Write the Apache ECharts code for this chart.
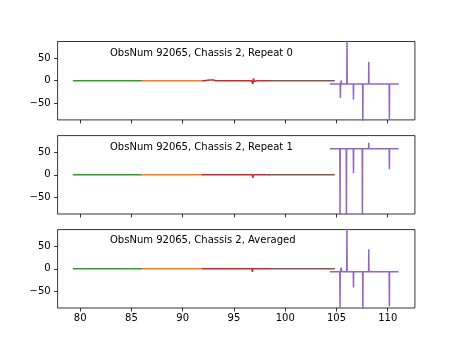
<!DOCTYPE html>
<html>
<head>
<meta charset="utf-8">
<script src="https://cdn.jsdelivr.net/npm/echarts@6/dist/echarts.min.js"></script>
<style>html,body{margin:0;padding:0;background:#fff}#c{width:461px;height:346px}</style>
</head>
<body>
<div id="c"></div>
<script>
// ---- data ----
const titles = ['ObsNum 92065, Chassis 2, Repeat 0', 'ObsNum 92065, Chassis 2, Repeat 1', 'ObsNum 92065, Chassis 2, Averaged'];
const xTicks = [80, 85, 90, 95, 100, 105, 110];
const yTicks = [-50, 0, 50];
const xRange = [77.8, 112.65];
const yRange = [-86, 86];

const green = [[79.29, 0], [86.07, 0]];
const orange = [[86.0, 0], [91.84, 0]];
const brown = [[98.4, 0], [104.84, 0]];

const red0 = [[91.84,0],[92.2,0],[92.3,-1.5],[92.4,1],[92.5,-1],[92.7,1.5],[92.85,-1],[93.0,1.5],[93.2,0],[96.7,0],[96.8,2],[96.85,-7],[96.9,5],[97.0,-2],[97.1,1],[97.2,0],[98.5,0]];
const red1 = [[91.84,0],[92.9,0],[93.0,2],[93.1,0],[96.8,0],[96.85,-7],[96.9,0],[98.5,0]];
const red2 = [[91.84,0],[92.9,0],[93.0,3],[93.1,0],[96.75,0],[96.8,-7],[96.85,0],[97.15,0],[97.2,3],[97.25,0],[98.5,0]];

const purple0 = [[104.35,-7],[105.36,-7],[105.38,-38],[105.41,-7],[105.44,-7],[105.46,1],[105.48,-7],[106.01,-7],[106.03,95],[106.05,-7],[106.64,-7],[106.66,-42],[106.68,-7],[107.55,-7],[107.57,-95],[107.59,-7],[108.13,-7],[108.15,41],[108.17,-7],[110.14,-7],[110.16,-86],[110.18,-7],[111.07,-7]];
const purple1 = [[104.35,57],[105.33,57],[105.35,-95],[105.37,57],[105.95,57],[105.97,-95],[105.99,57],[106.2,57],[106.22,59],[106.24,57],[106.64,57],[106.66,4],[106.68,57],[107.1,57],[107.12,59],[107.14,57],[107.51,57],[107.53,-95],[107.55,57],[108.13,57],[108.15,70],[108.17,57],[110.14,57],[110.16,12],[110.18,57],[111.07,57]];
const purple2 = [[104.35,-6.5],[105.33,-6.5],[105.35,-86],[105.37,-6.5],[105.46,-6.5],[105.48,3],[105.5,-6.5],[106.0,-6.5],[106.02,95],[106.04,-6.5],[106.64,-6.5],[106.66,-41],[106.68,-6.5],[107.55,-6.5],[107.57,-95],[107.59,-6.5],[108.13,-6.5],[108.15,43],[108.17,-6.5],[110.14,-6.5],[110.16,-82],[110.18,-6.5],[111.07,-6.5]];

const reds = [red0, red1, red2];
const purples = [purple0, purple1, purple2];

// ---- layout ----
const gridTops = [41.5, 135.6, 229.6];
const gridH = 78.4;
const gridL = 57.6, gridW = 357.3;
const colors = {green:'#2ca02c', orange:'#ff7f0e', red:'#d62728', brown:'#8c564b', purple:'#9467bd'};
const FONT = 'DejaVu Sans';
const fmtY = v => v < 0 ? '\u2212' + Math.abs(v) : String(v);

const grids = [], xAxes = [], yAxes = [], series = [], graphics = [];
for (let i = 0; i < 3; i++) {
  grids.push({left: gridL, top: gridTops[i], width: gridW, height: gridH, show: true, borderColor: '#000', borderWidth: 0.8, backgroundColor: 'transparent'});
  xAxes.push({type: 'value', gridIndex: i, min: xRange[0], max: xRange[1], position: 'bottom',
    axisLine: {show: false, onZero: false}, splitLine: {show: false},
    axisTick: {show: true, customValues: xTicks, length: 3.5, lineStyle: {color: '#000', width: 0.8}},
    axisLabel: {show: i === 2, customValues: xTicks, margin: 5, color: '#000', fontFamily: FONT, fontSize: 10}});
  yAxes.push({type: 'value', gridIndex: i, min: yRange[0], max: yRange[1], position: 'left',
    axisLine: {show: false, onZero: false}, splitLine: {show: false},
    axisTick: {show: true, customValues: yTicks, length: 3.5, lineStyle: {color: '#000', width: 0.8}},
    axisLabel: {show: true, customValues: yTicks, margin: 7, color: '#000', fontFamily: FONT, fontSize: 10, formatter: fmtY}});
  const segs = [[green, colors.green], [orange, colors.orange], [reds[i], colors.red], [brown, colors.brown], [purples[i], colors.purple]];
  segs.forEach(([d, c]) => series.push({type: 'line', xAxisIndex: i, yAxisIndex: i, data: d, showSymbol: false, symbol: 'none',
    clip: true, animation: false, lineStyle: {color: c, width: 1.5}, itemStyle: {color: c}}));
  graphics.push({type: 'text', left: 110, top: [48.5, 142, 235.5][i],
    style: {text: titles[i], fill: '#000', font: '10px "' + FONT + '"'}});
}

const chart = echarts.init(document.getElementById('c'), null, {renderer: 'canvas'});
chart.setOption({animation: false, grid: grids, xAxis: xAxes, yAxis: yAxes, series: series, graphic: graphics});
</script>
</body>
</html>
